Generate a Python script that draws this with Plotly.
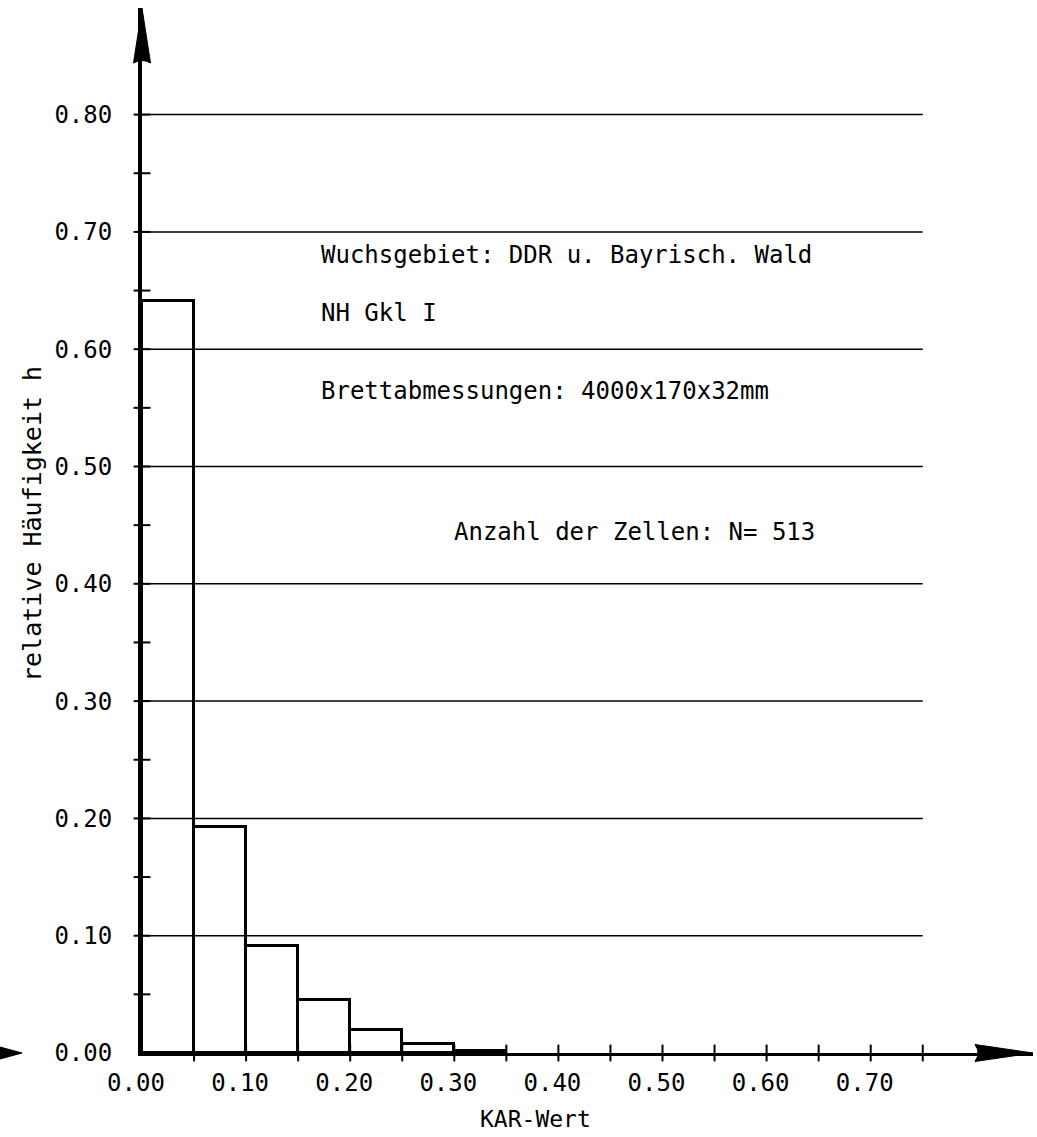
import plotly.graph_objects as go

# Histogram of KAR values (relative frequency per 0.05 class)
bin_edges = [0.00, 0.05, 0.10, 0.15, 0.20, 0.25, 0.30, 0.35]
rel_freq = [0.641, 0.193, 0.0916, 0.0448, 0.0195, 0.0078, 0.0019]

x_tick_vals = [0.00, 0.10, 0.20, 0.30, 0.40, 0.50, 0.60, 0.70]
y_tick_vals = [0.00, 0.10, 0.20, 0.30, 0.40, 0.50, 0.60, 0.70, 0.80]
x_cross_ticks = [0.05, 0.10, 0.15, 0.20, 0.25, 0.30, 0.35, 0.40, 0.45,
                 0.50, 0.55, 0.60, 0.65, 0.70, 0.75]
y_cross_ticks = [0.05, 0.10, 0.15, 0.20, 0.25, 0.30, 0.35, 0.40,
                 0.45, 0.50, 0.55, 0.60, 0.65, 0.70, 0.75, 0.80]
grid_levels = [0.10, 0.20, 0.30, 0.40, 0.50, 0.60, 0.70, 0.80]
grid_end = 0.75

info_lines = [
    ("Wuchsgebiet: DDR u. Bayrisch. Wald", 0.170, 0.680),
    ("NH Gkl I", 0.170, 0.631),
    ("Brettabmessungen: 4000x170x32mm", 0.170, 0.564),
    ("Anzahl der Zellen: N= 513", 0.298, 0.444),
]

FONT = "DejaVu Sans Mono"
W, H = 1037, 1137
ML, MR, MT, MB = 142, 4, 8, 84
PX_PER_X = 1041.0   # pixels per unit on the x axis
PX_PER_Y = 1173.0   # pixels per unit on the y axis
plot_w = W - ML - MR
plot_h = H - MT - MB
x_max = plot_w / PX_PER_X
y_max = plot_h / PX_PER_Y

centers = [(a + b) / 2 for a, b in zip(bin_edges[:-1], bin_edges[1:])]
widths = [b - a for a, b in zip(bin_edges[:-1], bin_edges[1:])]

fig = go.Figure()

fig.add_trace(go.Bar(
    x=centers, y=rel_freq, width=widths,
    marker=dict(color="rgba(0,0,0,0)", line=dict(color="black", width=3)),
    showlegend=False, hoverinfo="skip",
))

# tick crosses on both axes
fig.add_trace(go.Scatter(
    x=x_cross_ticks, y=[0] * len(x_cross_ticks), mode="markers",
    marker=dict(symbol="line-ns", size=12, line=dict(width=2, color="black")),
    cliponaxis=False, showlegend=False, hoverinfo="skip",
))
fig.add_trace(go.Scatter(
    x=[0] * len(y_cross_ticks), y=y_cross_ticks, mode="markers",
    marker=dict(symbol="line-ew", size=12, line=dict(width=2, color="black")),
    cliponaxis=False, showlegend=False, hoverinfo="skip",
))

shapes = []
for g in grid_levels:
    shapes.append(dict(type="line", xref="x", yref="y", x0=0, x1=grid_end,
                       y0=g, y1=g, line=dict(color="black", width=1.5),
                       layer="below"))

# arrow heads at the axis ends
ax_hw = 8.5 / plot_w
ay_hh = 8.5 / plot_h
shapes.append(dict(
    type="path", xref="paper", yref="paper",
    path=f"M {-ax_hw},{(plot_h - 55) / plot_h} Q 0,{(plot_h - 50) / plot_h} {ax_hw},{(plot_h - 55) / plot_h} "
         f"L 0,1 Z",
    fillcolor="black", line=dict(color="black", width=1),
))
shapes.append(dict(
    type="path", xref="paper", yref="paper",
    path=f"M {(plot_w - 58) / plot_w},{-ay_hh} Q {(plot_w - 52) / plot_w},0 {(plot_w - 58) / plot_w},{ay_hh} "
         f"L 1,0 Z",
    fillcolor="black", line=dict(color="black", width=1),
))
shapes.append(dict(
    type="path", xref="paper", yref="paper",
    path=f"M {-ML / plot_w},{-6 / plot_h} L {(-ML + 22) / plot_w},0 "
         f"L {-ML / plot_w},{6 / plot_h} Z",
    fillcolor="black", line=dict(color="black", width=1),
))

annotations = []
for text, x, y in info_lines:
    annotations.append(dict(
        text=text, x=x, y=y, xref="x", yref="y", xanchor="left",
        yanchor="middle", showarrow=False,
        font=dict(family=FONT, size=24, color="black"),
    ))
annotations.append(dict(
    text="relative Häufigkeit h", x=(-ML + 33) / plot_w, xref="paper",
    y=0.451, yref="y",
    xanchor="center", yanchor="middle", textangle=-90, showarrow=False,
    font=dict(family=FONT, size=25, color="black"),
))
annotations.append(dict(
    text="KAR-Wert", x=(478 - ML) / PX_PER_X, xref="x",
    y=-(1119 - (H - MB)) / plot_h, yref="paper",
    xanchor="left", yanchor="middle", showarrow=False,
    font=dict(family=FONT, size=23, color="black"),
))

fig.update_layout(
    width=W, height=H,
    margin=dict(l=ML, r=MR, t=MT, b=MB, pad=0),
    paper_bgcolor="white", plot_bgcolor="white",
    shapes=shapes, annotations=annotations,
    bargap=0,
    xaxis=dict(
        range=[0, x_max], showgrid=False, zeroline=False,
        showline=True, linecolor="black", linewidth=3,
        tickvals=x_tick_vals, ticktext=[f"{v:.2f}" for v in x_tick_vals],
        ticks="", ticklabelstandoff=6, ticklabelshift=-6,
        tickfont=dict(family=FONT, size=24, color="black"),
        fixedrange=True,
    ),
    yaxis=dict(
        range=[0, y_max], showgrid=False, zeroline=False,
        showline=True, linecolor="black", linewidth=4,
        tickvals=y_tick_vals, ticktext=[f"{v:.2f}" for v in y_tick_vals],
        ticks="", ticklabelstandoff=21,
        tickfont=dict(family=FONT, size=24, color="black"),
        fixedrange=True,
    ),
)

fig.write_html("out.html")
